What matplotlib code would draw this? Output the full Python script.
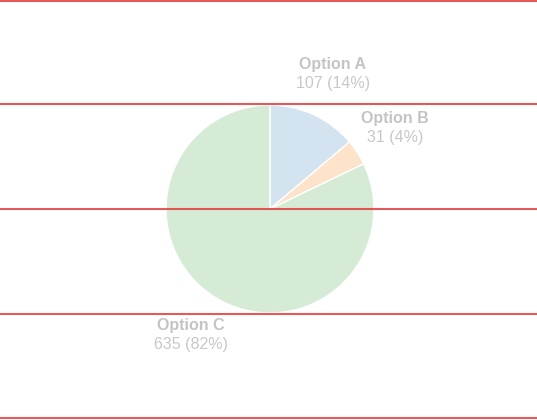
import numpy as np
import matplotlib
matplotlib.use("Agg")
import matplotlib.pyplot as plt

# data
labels = ["Option A", "Option B", "Option C"]
values = [107, 31, 635]
colors = ["#d3e3f0", "#fde3c9", "#d5ebd5"]

W, H = 537, 420
fig = plt.figure(figsize=(W / 100, H / 100), dpi=100)
ax = fig.add_axes([0, 0, 1, 1])
ax.axis("off")

cx, cy, r = 270, H - 209, 104
ax.pie(values, colors=colors, startangle=90, counterclock=False,
       center=(cx, cy), radius=r,
       wedgeprops=dict(edgecolor="white", linewidth=1))
ax.set_xlim(0, W)
ax.set_ylim(0, H)

total = sum(values)
cum = 0
for lab, v in zip(labels, values):
    mid = (cum + v / 2) / total * 2 * np.pi
    cum += v
    d = 1.43 * r
    tx = cx + d * np.sin(mid)
    ty = cy + d * np.cos(mid)
    pct = round(v / total * 100)
    ax.text(tx, ty + 9.5, lab, ha="center", va="center", fontsize=11.5,
            fontweight="bold", color="#c4c4c4", family="Liberation Sans")
    ax.text(tx, ty - 9.5, f"{v} ({pct}%)", ha="center", va="center",
            fontsize=11.5, color="#c8c8c8", family="Liberation Sans")

# red guide lines
for yy in [1, 104, 209, 314, 418]:
    ax.axhline(H - yy, color="#e03c3c", lw=1.5, alpha=0.85, zorder=10)

fig.savefig("out.png", dpi=100)
